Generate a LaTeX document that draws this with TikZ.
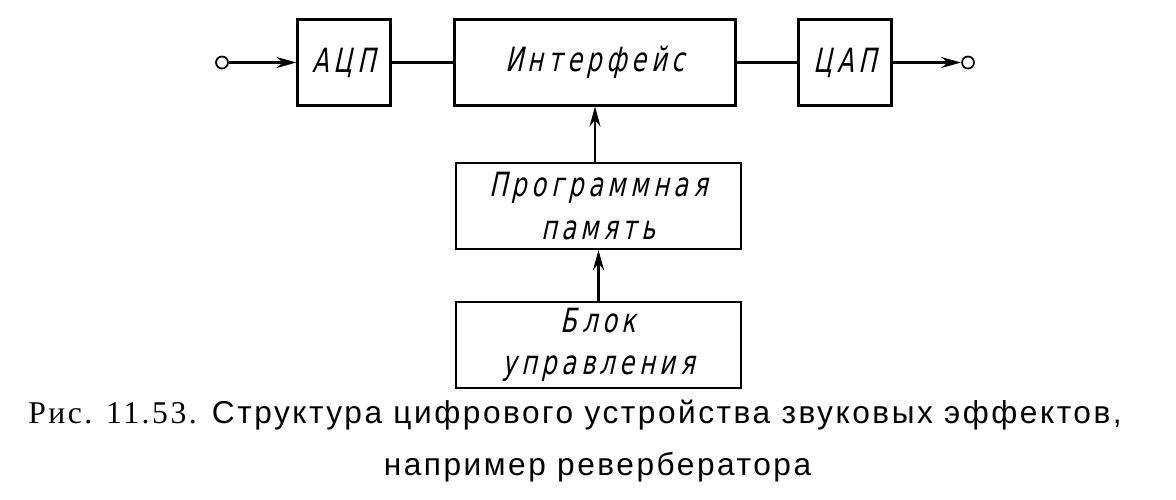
\documentclass[tikz,border=0pt]{standalone}
\usepackage{fontspec}
\usetikzlibrary{arrows.meta,positioning}
\newfontfamily\boxfont[FakeSlant=0.22,FakeStretch=0.72,LetterSpace=14]{DejaVu Sans}
\newfontfamily\capfont[LetterSpace=8]{Liberation Sans}
\newfontfamily\capserif[LetterSpace=8]{Liberation Serif}
\tikzset{
  block/.style={draw,line width=1.2pt,minimum width=5.7cm,minimum height=1.72cm,
    align=center,font=\boxfont\fontsize{19}{24}\selectfont},
  small/.style={block,minimum width=1.86cm},
  term/.style={draw,circle,line width=1pt,minimum size=0.24cm,inner sep=0pt},
  >={Stealth[length=4mm,width=2.2mm]}
}
\begin{document}
\begin{tikzpicture}[line width=1.5pt,on grid]
  \useasboundingbox (0,0) rectangle (23.52,-9.98);
  \node [small] (adc) at (6.88,-1.25) {АЦП};
  \node [block,minimum width=5.62cm] (iface) [right=5.02cm of adc] {Интерфейс};
  \node [small] (dac) [right=5cm of iface] {ЦАП};
  \node [block] (prog) [below right=2.87cm and 0.07cm of iface] {Программная\\память};
  \node [block,minimum height=1.68cm] (ctrl) [below=2.78cm of prog] {Блок\\управления};
  \node [term] (in) [left=2.44cm of adc] {};
  \node [term] (out) [right=2.46cm of dac] {};
  \path[->]
    (in) edge (adc)
    (dac) edge (out)
    (prog.north -| iface) edge (iface)
    (ctrl) edge (prog);
  \draw (adc) -- (iface) (iface) -- (dac);
  % caption
  \node [align=center,font=\capfont\fontsize{18}{30}\selectfont] (cap) at (11.5,-8.82)
    {{\capserif Рис. 11.53.} Структура цифрового устройства звуковых эффектов,\\\hspace*{0.9cm}например ревербератора};
\end{tikzpicture}
\end{document}
